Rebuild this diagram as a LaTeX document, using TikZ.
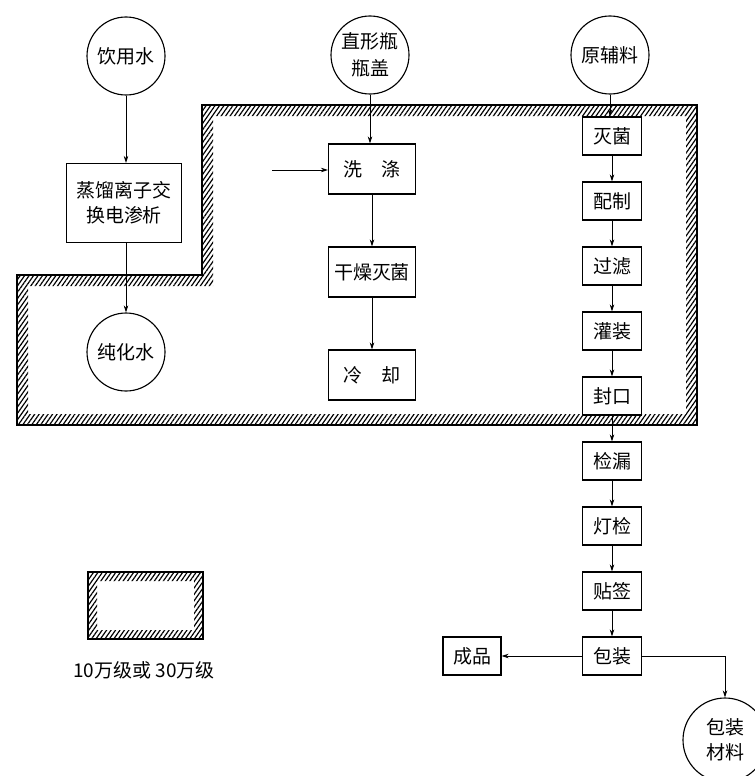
\documentclass[tikz,border=0pt]{standalone}
\usepackage{fontspec}
\usetikzlibrary{arrows.meta, positioning, patterns.meta}
\newfontfamily\cjk{Noto Sans CJK SC}

\begin{document}
\begin{tikzpicture}[font=\cjk\fontsize{13.5}{18}\selectfont,
  box/.style={draw, line width=0.8pt, fill=white, inner sep=2pt, align=center},
  src/.style={draw, circle, line width=0.8pt, fill=white, minimum size=1.95cm,
              inner sep=0pt, align=center},
  flow/.style={-{Stealth[length=5pt, width=3.2pt]}, line width=0.6pt},
  hatch/.style={pattern={Lines[angle=55, distance=2.6pt, line width=0.85pt]}}]
  \useasboundingbox (0,0) rectangle (18.85,-19.4);

  % clean zone band
  \path[hatch, even odd rule]
    (0.425,-6.875) -- (5.05,-6.875) -- (5.05,-2.625) -- (17.425,-2.625)
      -- (17.425,-10.625) -- (0.425,-10.625) -- cycle
    (0.7,-7.15) -- (5.325,-7.15) -- (5.325,-2.9) -- (17.15,-2.9)
      -- (17.15,-10.35) -- (0.7,-10.35) -- cycle;
  \draw[line width=1.2pt]
    (0.425,-6.875) -- (5.05,-6.875) -- (5.05,-2.625) -- (17.425,-2.625)
      -- (17.425,-10.625) -- (0.425,-10.625) -- cycle;

  % water
  \node[src] (yinyong) at (3.15,-1.4) {饮用水};
  \node[box, minimum width=2.875cm, minimum height=1.975cm] (zhengliu)
    at (3.1,-5.075) {蒸馏离子交\\换电渗析};
  \node[src] (chunhua) at (3.15,-8.8) {纯化水};
  \draw[flow] (yinyong) -- (yinyong |- zhengliu.north);
  \draw[flow] (yinyong |- zhengliu.south) -- (chunhua);

  % bottles
  \node[src, font=\cjk\fontsize{13.5}{19}\selectfont] (pinggai)
    at (9.25,-1.375) {直形瓶\\瓶盖};
  \foreach \nm/\lab/\y in {xidi/洗\quad 涤/-4.225, ganzao/干燥灭菌/-6.8,
                           lengque/冷\quad 却/-9.375}{%
    \node[box, minimum width=2.175cm, minimum height=1.25cm] (\nm)
      at (9.3,\y) {\lab};}
  \coordinate (xidiin) at (6.8,-4.25);
  \draw[flow] (pinggai) -- (pinggai |- xidi.north);
  \draw[flow] (xidiin) -- (xidiin -| xidi.west);
  \draw[flow] (xidi) -- (ganzao);
  \draw[flow] (ganzao) -- (lengque);

  % main line
  \node[src] (yuanfu) at (15.25,-1.375) {原辅料};
  \foreach \i/\lab in {1/灭菌, 2/配制, 3/过滤, 4/灌装, 5/封口,
                       6/检漏, 7/灯检, 8/贴签, 9/包装}{%
    \node[box, minimum width=1.475cm, minimum height=0.95cm] (r\i)
      at (15.3,-1.775-1.625*\i) {\lab};}
  \draw[flow] (yuanfu) -- (yuanfu |- r1.north);
  \foreach \a/\b in {1/2, 2/3, 3/4, 4/5, 5/6, 6/7, 7/8, 8/9}{%
    \draw[flow] (r\a) -- (r\b);}
  \node[box, minimum width=1.45cm, minimum height=0.95cm] (chengpin)
    at (11.8,-16.4) {成品};
  \node[src, minimum size=2.1cm] (baozhuang) at (18.125,-18.5) {包装\\材料};
  \draw[flow] (r9) -- (chengpin);
  \draw[flow] (r9.east) -| (baozhuang.north);

  % key
  \path[hatch, even odd rule] (2.2,-14.3) rectangle (5.075,-15.975)
    (2.425,-14.525) rectangle (4.85,-15.75);
  \draw[line width=1pt] (2.2,-14.3) rectangle (5.075,-15.975);
  \node (keytext) at (3.6,-16.75) {10万级或 30万级};
\end{tikzpicture}
\end{document}
